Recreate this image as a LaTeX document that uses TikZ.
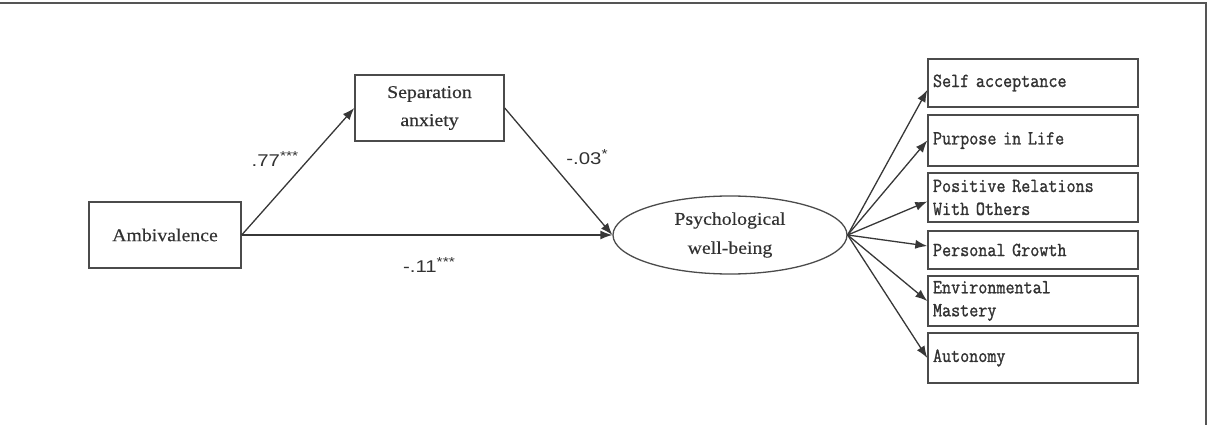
\documentclass[tikz,border=0pt]{standalone}
\usepackage{fontspec}
\setmainfont{Liberation Serif}
\newfontfamily\serifw[FakeStretch=1.1,FakeBold=0.4]{Liberation Serif}
\newfontfamily\monow[FakeStretch=0.88,FakeBold=1.2]{Latin Modern Mono}
\newfontfamily\sansw[FakeStretch=1.2]{Liberation Sans}
\usetikzlibrary{shapes.geometric,arrows.meta}
\definecolor{boxgray}{RGB}{75,75,75}
\definecolor{arrgray}{RGB}{55,55,55}
\definecolor{framegray}{RGB}{85,85,85}
\definecolor{txt}{RGB}{50,50,50}
\newcommand{\stars}[1]{\raisebox{0.75ex}{\fontsize{13}{13}\selectfont #1}}
\begin{document}
\begin{tikzpicture}[x=1pt,y=-1pt,
  box/.style={draw=boxgray,line width=1.4pt,inner sep=0pt,align=center,text=txt,
    font=\serifw\fontsize{18}{28}\selectfont},
  oval/.style={ellipse,draw=boxgray,line width=1.3pt,inner sep=0pt,align=center,text=txt,
    font=\serifw\fontsize{18}{29}\selectfont},
  rbox/.style={draw=boxgray,line width=1.4pt,inner xsep=5pt,inner ysep=0pt,text width=200pt,
    align=left,text=txt,font=\monow\fontsize{20}{23}\selectfont},
  lbl/.style={text=txt,inner sep=0pt,font=\sansw\fontsize{17}{20}\selectfont},
  arr/.style={draw=arrgray,line width=1.3pt,-{Latex[length=12pt,width=9pt]}}]
\useasboundingbox (0,0) rectangle (1211,425);
\draw[framegray,line width=2pt] (0,3) -- (1206,3) -- (1206,425);

\node[box,minimum width=152pt,minimum height=66pt] (amb) at (165,235) {Ambivalence};
\node[box,minimum width=149pt,minimum height=66pt] (sep) at (429.5,108) {Separation\\anxiety};
\node[oval,minimum width=234pt,minimum height=78pt] (pwb) at (730,235) {Psychological\\well-being};

\node[rbox,minimum height=48pt] (self) at (1033,83) {Self acceptance};
\node[rbox,minimum height=51pt] (purp) at (1033,140.5) {Purpose in Life};
\node[rbox,minimum height=49pt] (posi) at (1033,197.5) {Positive Relations\\With Others};
\node[rbox,minimum height=38pt] (pers) at (1033,250) {Personal Growth};
\node[rbox,minimum height=50pt] (env) at (1033,301) {Environmental\\Mastery};
\node[rbox,minimum height=50pt] (auto) at (1033,358) {Autonomy};

\draw[arr] (amb.east) -- (sep.west);
\draw[arr] (sep.east) -- (pwb.west);
\draw[arr] (amb.east) -- (pwb.west);

\draw[arr] (pwb.east) -- ([yshift=-7pt]self.west);
\draw[arr] (pwb.east) -- (purp.west);
\draw[arr] (pwb.east) -- ([yshift=-4pt]posi.west);
\draw[arr] (pwb.east) -- ([yshift=4pt]pers.west);
\draw[arr] (pwb.east) -- (env.west);
\draw[arr] (pwb.east) -- (auto.west);

\node[lbl] (l1) at (275,159) {.77\stars{***}};
\node[lbl] (l2) at (587,157) {-.03\stars{*}};
\node[lbl] (l3) at (429,265) {-.11\stars{***}};
\end{tikzpicture}
\end{document}
